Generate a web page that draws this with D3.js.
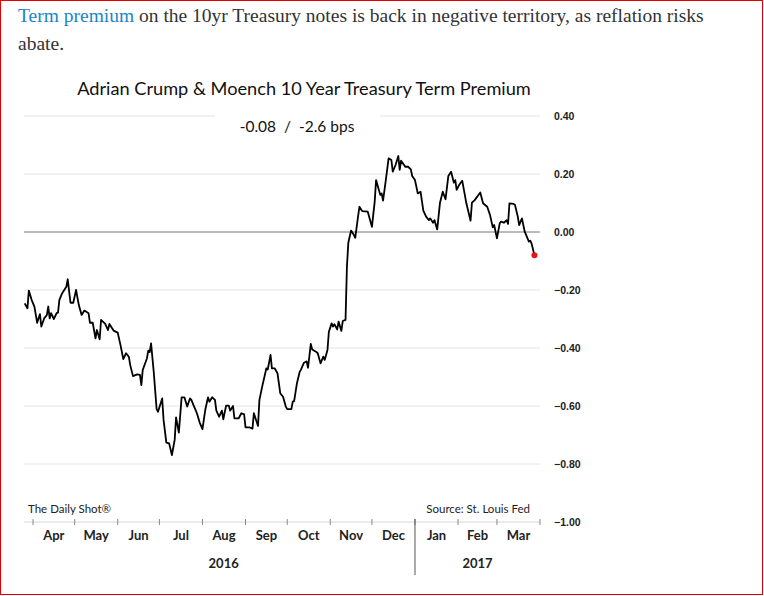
<!DOCTYPE html>
<html><head><meta charset="utf-8">
<script src="https://cdn.jsdelivr.net/npm/d3@7"></script>
<style>body{margin:0;background:#fff}</style></head>
<body><svg id="c" width="764" height="596"></svg>
<script>
const baseDate = new Date(2016,3,1);
const dayOffsets = [-6,-4,-3,-1,1,3,5,6,8,10,11,12,13,15,17,18,19,21,24,25,27,29,31,33,35,37,40,41,43,45,46,48,49,52,54,55,58,61,63,65,67,69,70,72,75,77,78,79,82,83,84,85,87,89,90,93,94,96,98,100,102,103,105,107,109,111,113,114,116,118,120,122,124,126,127,129,131,132,134,136,137,139,141,142,144,145,148,150,152,153,156,158,159,162,163,165,168,169,171,172,174,176,178,180,182,183,186,187,188,190,192,193,195,197,198,200,201,204,205,207,209,210,212,213,215,216,217,219,220,222,223,225,226,227,229,231,232,234,235,237,241,244,246,247,249,250,251,252,254,256,258,259,261,263,264,265,268,270,272,273,275,277,279,281,283,285,286,288,289,291,293,295,297,299,301,303,304,305,307,309,312,315,316,318,322,324,327,329,331,332,334,336,337,339,341,342,343,346,347,349,350,352,354,357,358,359,361];
const termPremium = [-0.246,-0.263,-0.202,-0.234,-0.257,-0.313,-0.283,-0.326,-0.298,-0.286,-0.257,-0.298,-0.280,-0.300,-0.280,-0.278,-0.234,-0.211,-0.189,-0.163,-0.244,-0.244,-0.200,-0.252,-0.286,-0.271,-0.280,-0.313,-0.313,-0.367,-0.338,-0.370,-0.303,-0.317,-0.338,-0.317,-0.340,-0.347,-0.390,-0.438,-0.418,-0.430,-0.459,-0.497,-0.491,-0.493,-0.528,-0.476,-0.436,-0.409,-0.414,-0.384,-0.487,-0.611,-0.620,-0.574,-0.648,-0.726,-0.729,-0.769,-0.717,-0.639,-0.692,-0.570,-0.570,-0.602,-0.574,-0.579,-0.602,-0.625,-0.657,-0.680,-0.614,-0.570,-0.585,-0.570,-0.579,-0.616,-0.637,-0.616,-0.646,-0.599,-0.599,-0.616,-0.600,-0.643,-0.643,-0.625,-0.629,-0.674,-0.674,-0.678,-0.625,-0.669,-0.579,-0.533,-0.470,-0.474,-0.424,-0.470,-0.470,-0.487,-0.556,-0.568,-0.602,-0.611,-0.611,-0.585,-0.583,-0.522,-0.482,-0.474,-0.451,-0.446,-0.468,-0.386,-0.405,-0.414,-0.418,-0.453,-0.430,-0.441,-0.407,-0.344,-0.315,-0.326,-0.318,-0.336,-0.309,-0.341,-0.307,-0.303,-0.120,-0.037,0.005,-0.010,-0.020,0.053,0.087,0.072,0.070,0.018,0.105,0.179,0.145,0.128,0.133,0.108,0.179,0.254,0.248,0.208,0.231,0.262,0.214,0.246,0.225,0.225,0.216,0.193,0.179,0.133,0.139,0.074,0.053,0.041,0.047,0.032,0.041,0.009,0.101,0.139,0.113,0.193,0.208,0.170,0.179,0.145,0.164,0.177,0.099,0.039,0.101,0.110,0.136,0.099,0.087,0.059,0.016,0.024,-0.022,0.030,0.036,0.032,0.041,0.028,0.099,0.097,0.093,0.053,0.024,0.047,0.001,-0.033,-0.030,-0.041,-0.08];
const yTicks = [0.40,0.20,0.00,-0.20,-0.40,-0.60,-0.80,-1.00];
const monthLabels = ["Apr","May","Jun","Jul","Aug","Sep","Oct","Nov","Dec","Jan","Feb","Mar"];
const yearLabels = [{label:"2016",from:0,to:9},{label:"2017",from:9,to:12}];

const svg = d3.select("#c");
svg.append("rect").attr("x",0.5).attr("y",0.5).attr("width",762).attr("height",594).attr("fill","none").attr("stroke","#e00000");

const hdr = svg.append("text").attr("x",18).attr("y",22).attr("font-family","Liberation Serif, serif").attr("font-size",19.5).attr("fill","#333");
hdr.append("tspan").attr("fill","#1a86c8").text("Term premium");
hdr.append("tspan").text(" on the 10yr Treasury notes is back in negative territory, as reflation risks");
svg.append("text").attr("x",18).attr("y",50).attr("font-family","Liberation Serif, serif").attr("font-size",19.5).attr("fill","#333").text("abate.");

const x = d3.scaleTime().domain([baseDate,new Date(2017,3,1)]).range([33,540]);
const y = d3.scaleLinear().domain([-1,0.4]).range([522,116]);

svg.append("text").attr("x",304).attr("y",95).attr("text-anchor","middle").attr("font-family","Lato, sans-serif").attr("font-size",18.2).attr("fill","#111").text("Adrian Crump & Moench 10 Year Treasury Term Premium");

svg.append("g").selectAll("line").data(yTicks).join("line")
  .attr("x1",24).attr("x2",540).attr("y1",d=>y(d)).attr("y2",d=>y(d))
  .attr("stroke",d=>d===0?"#777":"#e4e4e4").attr("stroke-width",d=>d===0?1.2:1);
svg.append("g").selectAll("text").data(yTicks).join("text")
  .attr("x",554).attr("y",d=>y(d)+4).attr("font-family","Liberation Sans, Arial, sans-serif").attr("font-weight","bold").attr("font-size",10.5).attr("fill","#222")
  .text(d=>d3.format(".2f")(d));

svg.append("rect").attr("x",215).attr("y",110).attr("width",165).attr("height",30).attr("fill","#fff");
svg.append("text").attr("x",297).attr("y",132).attr("text-anchor","middle").attr("font-family","Lato, sans-serif").attr("font-size",15.5).attr("fill","#111").attr("xml:space","preserve").style("white-space","pre").text("-0.08  /  -2.6 bps");

const data = dayOffsets.map((d,i)=>({date:d3.timeDay.offset(baseDate,d),v:termPremium[i]}));
svg.append("path").datum(data).attr("fill","none").attr("stroke","#000").attr("stroke-width",1.8).attr("stroke-linejoin","round")
  .attr("d",d3.line().x(d=>x(d.date)).y(d=>y(d.v)));
const last = data[data.length-1];
svg.append("circle").attr("cx",x(last.date)).attr("cy",y(last.v)).attr("r",3).attr("fill","#e8141b");

svg.append("text").attr("x",28).attr("y",513).attr("font-family","Lato, sans-serif").attr("font-size",11.5).attr("fill","#222").text("The Daily Shot®");
svg.append("text").attr("x",530).attr("y",513).attr("text-anchor","end").attr("font-family","Lato, sans-serif").attr("font-size",11.5).attr("fill","#222").text("Source: St. Louis Fed");

svg.append("line").attr("x1",24).attr("x2",540).attr("y1",522).attr("y2",522).attr("stroke","#e4e4e4");
const monthTicks = d3.timeMonth.range(baseDate,new Date(2017,3,2));
svg.append("g").selectAll("line").data(monthTicks).join("line")
  .attr("x1",d=>x(d)).attr("x2",d=>x(d)).attr("y1",519).attr("y2",525).attr("stroke","#888");
svg.append("line").attr("x1",x(new Date(2017,0,1))).attr("x2",x(new Date(2017,0,1))).attr("y1",519).attr("y2",575).attr("stroke","#555");
const mids = monthLabels.map((m,i)=>{const a=d3.timeMonth.offset(baseDate,i);const b=d3.timeMonth.offset(a,1);return (x(a)+x(b))/2;});
svg.append("g").selectAll("text").data(monthLabels).join("text")
  .attr("x",(d,i)=>mids[i]).attr("y",540).attr("text-anchor","middle").attr("font-family","Lato, sans-serif").attr("font-weight","bold").attr("font-size",13).attr("fill","#222").text(d=>d);
svg.append("g").selectAll("text").data(yearLabels).join("text")
  .attr("x",d=>(mids[d.from]+mids[d.to-1])/2).attr("y",568).attr("text-anchor","middle").attr("font-family","Lato, sans-serif").attr("font-weight","bold").attr("font-size",13).attr("fill","#222").text(d=>d.label);
</script></body></html>
